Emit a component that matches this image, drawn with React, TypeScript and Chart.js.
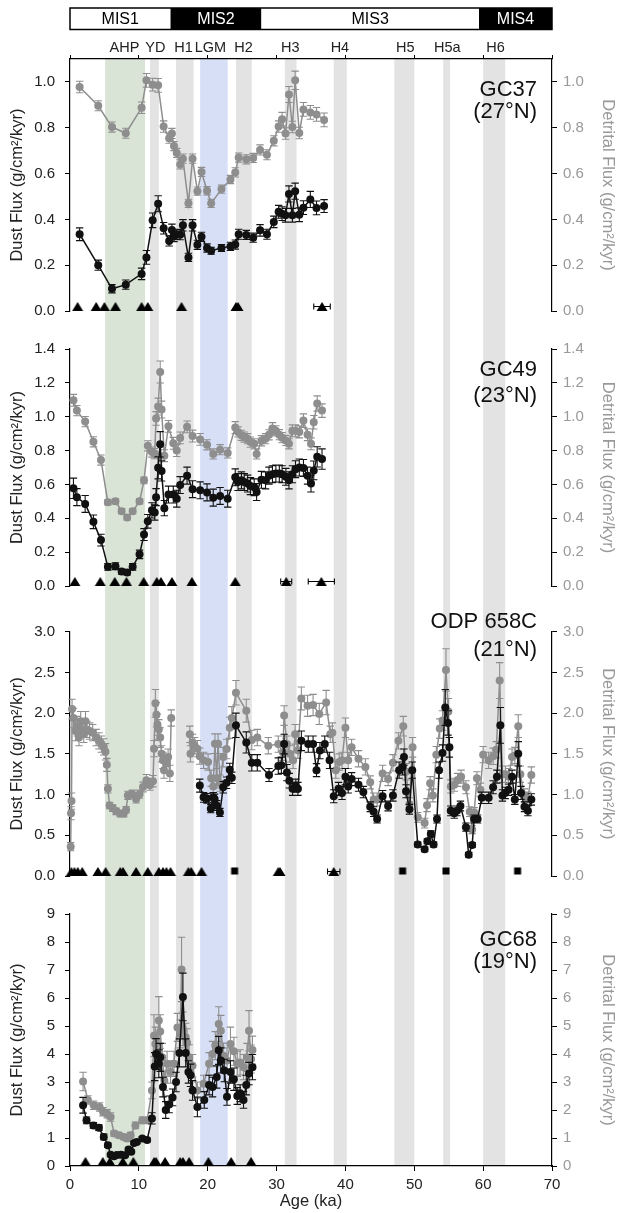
import React, { useEffect, useRef } from 'react';
import { Chart, registerables } from 'chart.js';
Chart.register(...registerables);

const FONT = '"Liberation Sans", Arimo, Arial, Helvetica, sans-serif';
const GREY = '#8e8e8e';
const BLACK = '#111111';

// ---------------- header data ----------------
const misNames = ['MIS1', 'MIS2', 'MIS3', 'MIS4'];
const misStart = [0, 14.6, 27.8, 59.4];
const misEnd = [14.6, 27.8, 59.4, 70];
const bandNames = ['AHP', 'YD', 'H1', 'LGM', 'H2', 'H3', 'H4', 'H5', 'H5a', 'H6'];
const bandStart = [5.1, 11.6, 15.4, 18.9, 24.1, 31.2, 38.3, 47.1, 54.2, 60.0];
const bandEnd = [10.9, 12.9, 17.95, 22.9, 26.4, 32.9, 40.2, 50.0, 55.2, 63.2];
const bandLabelAge = [7.9, 12.4, 16.5, 20.4, 25.2, 32.0, 39.2, 48.7, 54.8, 61.8];

// ---------------- GC37 ----------------
const gc37Ages = [1.4, 4.1, 6.1, 8.1, 10.4, 11.1, 12.0, 12.8, 13.6, 14.4, 14.8, 15.1, 15.5, 16.0, 16.4, 17.2, 17.8, 18.5, 19.1, 19.9, 20.5, 22.0, 23.3, 24.0, 24.5, 25.6, 26.6, 27.6, 28.6, 29.6, 30.3, 30.8, 31.3, 31.8, 32.3, 32.7, 33.3, 33.9, 34.9, 35.8, 36.9];
const gc37Detrital = [0.978, 0.896, 0.803, 0.776, 0.887, 1.007, 0.988, 0.985, 0.805, 0.754, 0.775, 0.72, 0.69, 0.64, 0.665, 0.47, 0.665, 0.523, 0.607, 0.525, 0.47, 0.532, 0.574, 0.605, 0.67, 0.662, 0.668, 0.703, 0.682, 0.743, 0.805, 0.837, 0.775, 0.945, 0.803, 1.007, 0.777, 0.88, 0.867, 0.858, 0.834];
const gc37DetritalErr = [0.025, 0.022, 0.022, 0.022, 0.025, 0.03, 0.028, 0.03, 0.025, 0.022, 0.022, 0.02, 0.02, 0.02, 0.02, 0.018, 0.02, 0.018, 0.02, 0.018, 0.018, 0.018, 0.018, 0.02, 0.02, 0.02, 0.02, 0.022, 0.022, 0.022, 0.025, 0.03, 0.025, 0.035, 0.025, 0.04, 0.025, 0.03, 0.03, 0.03, 0.03];
const gc37Dust = [0.335, 0.2, 0.097, 0.115, 0.162, 0.234, 0.396, 0.468, 0.361, 0.306, 0.354, 0.325, 0.335, 0.333, 0.374, 0.234, 0.374, 0.289, 0.324, 0.275, 0.263, 0.275, 0.282, 0.29, 0.335, 0.332, 0.32, 0.352, 0.335, 0.389, 0.433, 0.425, 0.418, 0.511, 0.418, 0.523, 0.42, 0.451, 0.487, 0.45, 0.458];
const gc37DustErr = [0.028, 0.022, 0.018, 0.02, 0.025, 0.03, 0.032, 0.035, 0.025, 0.022, 0.025, 0.022, 0.022, 0.022, 0.025, 0.018, 0.025, 0.02, 0.02, 0.018, 0.015, 0.015, 0.018, 0.02, 0.022, 0.02, 0.02, 0.025, 0.022, 0.025, 0.028, 0.03, 0.03, 0.035, 0.03, 0.035, 0.03, 0.03, 0.035, 0.03, 0.028];
const gc37CtrlAges = [1.1, 3.8, 5.0, 6.6, 10.4, 11.3, 16.2, 24.1, 24.4, 36.6];
const gc37CtrlErr = [0, 0, 0, 0, 0, 0, 0, 0, 0, 1.2];

// ---------------- GC49 ----------------
const gc49Ages = [0.5, 1.0, 2.2, 3.4, 4.5, 5.5, 6.6, 7.5, 8.3, 9.1, 10.1, 10.75, 11.3, 11.9, 12.3, 12.5, 12.8, 13.1, 13.3, 13.7, 14.3, 15.0, 15.5, 16.0, 17.0, 17.8, 18.9, 19.9, 20.8, 21.8, 22.9, 24.0, 24.4, 24.9, 25.3, 25.8, 26.2, 26.75, 27.1, 27.8, 28.4, 28.9, 29.4, 29.9, 30.4, 30.8, 31.35, 31.8, 32.3, 32.75, 33.3, 33.9, 34.5, 35.0, 35.4, 35.9, 36.6];
const gc49Detrital = [1.097, 1.036, 0.971, 0.852, 0.744, 0.494, 0.5, 0.442, 0.405, 0.442, 0.5, 0.624, 0.828, 0.791, 0.782, 0.99, 1.06, 1.264, 1.042, 0.77, 0.943, 0.843, 0.8, 0.875, 0.94, 0.886, 0.866, 0.834, 0.78, 0.805, 0.786, 0.936, 0.91, 0.89, 0.88, 0.87, 0.85, 0.84, 0.78, 0.858, 0.87, 0.893, 0.93, 0.917, 0.894, 0.876, 0.86, 0.84, 0.917, 0.917, 0.91, 0.977, 0.894, 0.84, 0.967, 1.078, 1.036];
const gc49DetritalErr = [0.035, 0.03, 0.03, 0.03, 0.03, 0.015, 0.015, 0.015, 0.015, 0.015, 0.015, 0.02, 0.03, 0.03, 0.03, 0.04, 0.05, 0.065, 0.05, 0.035, 0.035, 0.035, 0.035, 0.035, 0.035, 0.035, 0.035, 0.03, 0.03, 0.03, 0.03, 0.035, 0.03, 0.03, 0.03, 0.03, 0.03, 0.03, 0.03, 0.03, 0.03, 0.03, 0.035, 0.03, 0.03, 0.03, 0.03, 0.03, 0.035, 0.035, 0.035, 0.04, 0.035, 0.035, 0.04, 0.045, 0.04];
const gc49Dust = [0.577, 0.525, 0.485, 0.379, 0.271, 0.113, 0.117, 0.085, 0.08, 0.113, 0.187, 0.304, 0.382, 0.447, 0.434, 0.525, 0.698, 0.837, 0.68, 0.46, 0.54, 0.54, 0.516, 0.596, 0.652, 0.572, 0.565, 0.553, 0.522, 0.532, 0.516, 0.642, 0.614, 0.624, 0.614, 0.605, 0.59, 0.583, 0.555, 0.627, 0.624, 0.652, 0.66, 0.664, 0.664, 0.66, 0.645, 0.624, 0.66, 0.69, 0.7, 0.697, 0.652, 0.605, 0.683, 0.763, 0.75];
const gc49DustErr = [0.06, 0.05, 0.05, 0.04, 0.035, 0.02, 0.02, 0.015, 0.015, 0.02, 0.025, 0.035, 0.04, 0.045, 0.045, 0.05, 0.065, 0.075, 0.06, 0.045, 0.05, 0.05, 0.05, 0.05, 0.05, 0.05, 0.05, 0.05, 0.05, 0.05, 0.05, 0.05, 0.05, 0.05, 0.05, 0.05, 0.05, 0.05, 0.05, 0.05, 0.05, 0.05, 0.05, 0.05, 0.05, 0.05, 0.05, 0.05, 0.05, 0.05, 0.05, 0.05, 0.05, 0.05, 0.055, 0.06, 0.06];
const gc49CtrlAges = [0.7, 4.4, 6.5, 8.2, 10.7, 12.6, 13.2, 14.8, 17.7, 24.0, 31.4, 36.5];
const gc49CtrlErr = [0, 0, 0, 0, 0, 0, 0, 0, 0, 0, 0.8, 1.9];

// ---------------- ODP 658C ----------------
const odpDetritalAges = [0.1, 0.15, 0.22, 0.3, 0.5, 0.8, 1.05, 1.3, 1.55, 1.8, 2.0, 2.25, 2.45, 2.85, 3.3, 3.8, 4.2, 4.55, 4.9, 5.15, 5.35, 5.5, 5.75, 6.2, 6.7, 7.3, 7.8, 8.15, 8.4, 9.05, 9.6, 10.1, 10.6, 11.1, 11.6, 12.05, 12.2, 12.4, 12.55, 12.7, 12.9, 13.1, 13.3, 13.5, 13.65, 14.0, 14.25, 14.5, 14.7, 16.0, 17.4, 17.5, 17.8, 18.1, 18.5, 18.85, 19.4, 20.05, 20.5, 20.8, 21.05, 21.3, 21.5, 21.8, 22.25, 22.75, 23.2, 23.5, 24.1, 25.6, 26.4, 27.2, 28.8, 30.25, 30.9, 31.1, 31.5, 31.9, 32.4, 32.7, 33.1, 33.6, 34.5, 35.3, 36.2, 37.2, 37.8, 38.1, 38.6, 39.1, 39.5, 40.0, 40.4, 40.9, 41.9, 42.9, 43.6, 44.1, 44.6, 45.4, 46.2, 46.9, 47.7, 48.4, 48.8, 49.3, 49.75, 50.5, 51.5, 51.85, 52.3, 52.7, 53.2, 53.7, 54.1, 54.6, 54.95, 55.3, 55.8, 56.3, 56.8, 57.5, 58.05, 58.4, 58.7, 59.1, 59.6, 60.0, 60.8, 61.45, 61.9, 62.4, 62.8, 63.25, 63.7, 64.2, 64.6, 65.1, 65.4, 66.0, 66.5, 67.0];
const odpDetrital = [0.36, 0.77, 0.92, 2.05, 1.94, 1.78, 1.84, 1.7, 1.9, 1.8, 1.74, 1.9, 1.8, 1.78, 1.76, 1.7, 1.66, 1.62, 1.585, 1.525, 1.365, 1.07, 0.866, 0.834, 0.794, 0.766, 0.766, 0.814, 0.99, 1.005, 0.946, 1.005, 1.093, 1.177, 1.113, 1.165, 1.564, 2.12, 1.98, 1.86, 1.8, 1.7, 1.5, 1.42, 1.3, 1.38, 1.46, 1.26, 1.94, null, 1.74, 1.5, 1.64, 1.6, 1.564, 1.472, 1.42, 1.4, 1.2, 1.1, 1.625, 1.2, 1.625, 1.14, 1.46, 1.56, 1.82, 1.94, 2.25, 2.03, 1.67, 1.7, 1.6, 1.62, 1.52, 1.97, 1.62, 1.5, 1.42, 1.74, 1.545, 2.18, 2.09, 2.1, 1.99, 2.13, 1.74, 1.76, 1.3, 1.4, 1.42, 1.82, 1.42, 1.58, 1.44, 1.34, 1.15, 0.94, 0.94, 1.26, 1.19, 1.39, 1.66, 1.84, 1.28, 0.88, 1.58, 0.72, 0.65, 0.87, 1.14, 0.99, 1.49, 1.81, 1.91, 2.53, 2.02, 1.1, 1.12, 1.18, 1.22, 1.09, 0.79, 0.57, 0.78, 1.2, 1.06, 1.49, 1.42, 1.47, 1.55, 2.4, 1.25, 1.25, 1.22, 1.46, 1.48, 1.84, 1.25, 0.99, 0.95, 1.24];
const odpDetritalErr = [0.05, 0.08, 0.1, 0.12, 0.12, 0.12, 0.12, 0.1, 0.12, 0.1, 0.1, 0.12, 0.1, 0.1, 0.1, 0.1, 0.1, 0.1, 0.1, 0.1, 0.08, 0.05, 0.04, 0.04, 0.04, 0.04, 0.04, 0.04, 0.05, 0.05, 0.05, 0.05, 0.06, 0.07, 0.06, 0.07, 0.1, 0.17, 0.15, 0.13, 0.12, 0.12, 0.1, 0.1, 0.1, 0.1, 0.1, 0.1, 0.1, 0, 0.1, 0.1, 0.1, 0.1, 0.1, 0.1, 0.1, 0.1, 0.1, 0.12, 0.12, 0.12, 0.12, 0.1, 0.12, 0.12, 0.13, 0.14, 0.15, 0.14, 0.12, 0.1, 0.1, 0.1, 0.1, 0.12, 0.1, 0.1, 0.1, 0.12, 0.1, 0.14, 0.13, 0.13, 0.13, 0.15, 0.1, 0.12, 0.1, 0.1, 0.1, 0.12, 0.1, 0.1, 0.1, 0.1, 0.08, 0.08, 0.08, 0.1, 0.08, 0.1, 0.1, 0.12, 0.1, 0.08, 0.12, 0.06, 0.06, 0.08, 0.08, 0.08, 0.1, 0.12, 0.12, 0.26, 0.16, 0.08, 0.08, 0.08, 0.08, 0.08, 0.06, 0.05, 0.06, 0.08, 0.08, 0.1, 0.1, 0.1, 0.1, 0.22, 0.1, 0.1, 0.1, 0.1, 0.1, 0.14, 0.1, 0.08, 0.08, 0.1];
const odpDustAges = [18.85, 19.4, 19.9, 20.45, 20.8, 21.0, 21.3, 21.77, 22.25, 22.74, 23.2, 23.5, 24.1, 25.6, 26.4, 27.2, 28.9, 30.25, 30.7, 31.1, 31.5, 31.85, 32.33, 32.8, 33.1, 33.6, 34.6, 35.3, 35.8, 36.3, 37.0, 37.7, 38.3, 39.0, 39.5, 40.0, 40.4, 40.9, 41.9, 42.6, 43.6, 44.1, 44.6, 45.4, 46.2, 46.9, 47.8, 48.3, 48.5, 48.8, 49.3, 49.7, 50.5, 51.5, 51.9, 52.4, 52.8, 53.3, 53.6, 54.1, 54.5, 54.9, 55.1, 55.3, 55.8, 56.2, 56.7, 57.5, 57.9, 58.4, 58.7, 59.2, 59.8, 60.8, 61.45, 62.0, 62.5, 62.8, 63.2, 63.7, 64.2, 64.6, 65.1, 65.5, 66.0, 66.5, 67.0];
const odpDust = [1.11, 0.966, 0.953, 0.826, 0.966, 0.946, 0.866, 0.78, 1.09, 1.145, 1.305, 1.205, 1.85, 1.64, 1.39, 1.39, 1.24, 1.35, 1.36, 1.62, 1.27, 1.17, 1.07, 1.11, 1.07, 1.66, 1.62, 1.62, 1.3, 1.54, 1.62, 1.42, 0.98, 1.07, 1.02, 1.22, 1.1, 1.19, 1.12, 1.03, 0.85, 0.79, 0.7, 0.98, 0.86, 0.99, 1.3, 1.34, 1.46, 1.04, 0.82, 1.3, 0.387, 0.327, 0.427, 0.515, 0.387, 0.7, 1.3, 1.51, 2.07, 1.88, 1.58, 0.8, 0.77, 0.8, 0.86, 0.6, 0.26, 0.38, 0.7, 0.7, 0.96, 0.96, 1.09, 1.22, 1.85, 0.99, 1.02, 1.06, 1.22, 0.94, 1.5, 1.02, 0.85, 0.8, 0.94];
const odpDustErr = [0.08, 0.06, 0.06, 0.05, 0.06, 0.06, 0.06, 0.05, 0.07, 0.07, 0.08, 0.07, 0.15, 0.13, 0.1, 0.1, 0.08, 0.1, 0.1, 0.12, 0.1, 0.09, 0.08, 0.08, 0.08, 0.12, 0.1, 0.1, 0.08, 0.1, 0.1, 0.1, 0.08, 0.08, 0.08, 0.1, 0.08, 0.08, 0.08, 0.07, 0.06, 0.06, 0.05, 0.07, 0.06, 0.07, 0.1, 0.1, 0.1, 0.08, 0.06, 0.1, 0.03, 0.03, 0.03, 0.04, 0.03, 0.05, 0.1, 0.1, 0.22, 0.15, 0.12, 0.06, 0.06, 0.06, 0.06, 0.05, 0.03, 0.03, 0.05, 0.05, 0.07, 0.07, 0.08, 0.08, 0.22, 0.07, 0.07, 0.07, 0.08, 0.06, 0.15, 0.08, 0.06, 0.06, 0.07];
const odpCtrlAges = [0.2, 0.65, 1.13, 1.77, 4.05, 5.17, 7.3, 7.7, 9.6, 11.3, 12.9, 13.5, 14.0, 14.6, 17.2, 17.6, 19.1, 30.25, 30.5, 38.3];
const odpCtrlErr = [0, 0, 0, 0, 0, 0, 0, 0, 0, 0, 0, 0, 0, 0, 0, 0, 0, 0, 0, 0.9];
const odpTieAges = [23.9, 48.3, 54.6, 65.0];

// ---------------- GC68 ----------------
const gc68DetritalAges = [1.9, 2.6, 3.45, 4.3, 4.8, 5.4, 5.9, 6.4, 7.1, 7.8, 8.3, 8.8, 9.5, 10.5, 11.2, 11.9, 12.2, 12.4, 12.7, 12.9, 13.1, 13.4, 13.7, 14.1, 14.6, 15.1, 15.6, 16.0, 16.2, 16.4, 16.8, 17.0, 17.3, 17.8, 18.5, 19.4, 20.2, 20.7, 21.1, 21.6, 21.9, 22.3, 22.8, 23.3, 23.8, 24.3, 24.7, 25.2, 25.7, 26.0, 26.3, 26.5];
const gc68Detrital = [3.02, 2.36, 2.17, 2.11, 1.94, 1.87, 1.75, 1.16, 1.1, 1.04, 0.98, 1.1, 1.45, 1.63, 1.63, 2.7, 4.65, 4.36, 4.0, 5.2, 4.8, 3.88, 3.05, 3.65, 3.36, 3.65, 4.95, 4.72, 7.02, 4.9, 4.6, 4.4, 3.88, 3.58, 2.7, 2.94, 3.65, 4.0, 4.3, 5.07, 4.83, 3.94, 3.77, 4.36, 4.1, 3.65, 3.7, 3.53, 3.88, 4.83, 3.82, 4.14];
const gc68DetritalErr = [0.33, 0.15, 0.15, 0.15, 0.15, 0.15, 0.15, 0.1, 0.1, 0.1, 0.1, 0.1, 0.12, 0.12, 0.12, 0.3, 0.75, 0.6, 0.5, 0.85, 0.6, 0.5, 0.35, 0.45, 0.4, 0.45, 0.5, 0.5, 1.15, 0.6, 0.5, 0.5, 0.45, 0.4, 0.3, 0.3, 0.4, 0.45, 0.5, 0.62, 0.55, 0.45, 0.45, 0.6, 0.5, 0.45, 0.45, 0.45, 0.5, 0.72, 0.5, 0.5];
const gc68DustAges = [1.9, 2.4, 3.4, 4.2, 4.9, 5.5, 5.9, 6.4, 6.8, 7.4, 8.0, 8.5, 8.9, 9.3, 9.7, 10.5, 11.2, 11.9, 12.3, 12.5, 12.9, 13.1, 13.5, 13.9, 14.4, 14.9, 15.4, 15.9, 16.4, 16.8, 17.2, 17.5, 17.8, 18.5, 19.5, 20.2, 20.7, 21.3, 21.6, 21.9, 22.4, 22.8, 23.3, 23.8, 24.3, 24.7, 25.2, 25.6, 26.0, 26.5];
const gc68Dust = [2.17, 1.63, 1.45, 1.37, 1.04, 0.74, 0.4, 0.35, 0.39, 0.4, 0.38, 0.59, 0.51, 0.82, 0.86, 0.98, 0.93, 1.7, 3.55, 4.0, 3.65, 3.88, 2.82, 2.0, 2.2, 2.45, 3.0, 4.04, 6.04, 4.04, 3.36, 3.24, 2.7, 2.11, 2.36, 2.89, 2.82, 3.18, 4.13, 3.77, 3.41, 2.47, 3.36, 3.1, 2.5, 2.6, 2.36, 2.89, 3.3, 3.53];
const gc68DustErr = [0.28, 0.12, 0.1, 0.1, 0.1, 0.08, 0.05, 0.04, 0.04, 0.05, 0.05, 0.06, 0.06, 0.06, 0.06, 0.07, 0.07, 0.2, 0.5, 0.55, 0.5, 0.5, 0.35, 0.3, 0.3, 0.3, 0.35, 0.5, 0.85, 0.5, 0.4, 0.4, 0.35, 0.35, 0.3, 0.35, 0.35, 0.4, 0.5, 0.45, 0.4, 0.3, 0.4, 0.4, 0.3, 0.3, 0.3, 0.35, 0.4, 0.45];
const gc68CtrlAges = [2.25, 4.76, 5.8, 7.67, 9.2, 12.2, 12.5, 13.8, 16.0, 16.4, 17.3, 20.1, 23.4, 26.3];
const gc68CtrlErr = [0, 0, 0, 0, 0, 0, 0, 0, 0, 0, 0, 0, 0, 0];

// ---------------- panel definitions ----------------
type PanelCfg = {
  name: string; lat: string;
  top: number; height: number; padTop: number; padBottom: number;
  ymax: number; step: number; digits: number;
  header: boolean; footer: boolean;
  nameBase: number; latBase: number;
  dustAges: number[]; dust: (number | null)[]; dustErr: number[];
  detAges: number[]; det: (number | null)[]; detErr: number[];
  ctrlAges: number[]; ctrlErr: number[]; tieAges?: number[];
};

const panels: PanelCfg[] = [
  { name: 'GC37', lat: '(27°N)', top: 0, height: 330, padTop: 55, padBottom: 16, ymax: 1.1, step: 0.2, digits: 1, header: true, footer: false, nameBase: 36.6, latBase: 58.6,
    dustAges: gc37Ages, dust: gc37Dust, dustErr: gc37DustErr, detAges: gc37Ages, det: gc37Detrital, detErr: gc37DetritalErr, ctrlAges: gc37CtrlAges, ctrlErr: gc37CtrlErr },
  { name: 'GC49', lat: '(23°N)', top: 330, height: 275, padTop: 14, padBottom: 9.7, ymax: 1.4, step: 0.2, digits: 1, header: false, footer: false, nameBase: 27.2, latBase: 52.9,
    dustAges: gc49Ages, dust: gc49Dust, dustErr: gc49DustErr, detAges: gc49Ages, det: gc49Detrital, detErr: gc49DetritalErr, ctrlAges: gc49CtrlAges, ctrlErr: gc49CtrlErr },
  { name: 'ODP 658C', lat: '(21°N)', top: 605, height: 290, padTop: 26.7, padBottom: 12.7, ymax: 3.0, step: 0.5, digits: 1, header: false, footer: false, nameBase: -3.8, latBase: 24.5,
    dustAges: odpDustAges, dust: odpDust, dustErr: odpDustErr, detAges: odpDetritalAges, det: odpDetrital, detErr: odpDetritalErr, ctrlAges: odpCtrlAges, ctrlErr: odpCtrlErr, tieAges: odpTieAges },
  { name: 'GC68', lat: '(19°N)', top: 895, height: 318, padTop: 17.7, padBottom: 0, ymax: 9, step: 1, digits: 0, header: false, footer: true, nameBase: 32.2, latBase: 54.2,
    dustAges: gc68DustAges, dust: gc68Dust, dustErr: gc68DustErr, detAges: gc68DetritalAges, det: gc68Detrital, detErr: gc68DetritalErr, ctrlAges: gc68CtrlAges, ctrlErr: gc68CtrlErr },
];

function bandColor(name: string): string {
  if (name === 'AHP') return '#d9e4d6';
  if (name === 'LGM') return '#d6dff5';
  return '#e3e3e3';
}

function markerImage(kind: 'tri' | 'sq'): HTMLCanvasElement {
  const c = document.createElement('canvas');
  c.width = 12; c.height = 20;
  const g = c.getContext('2d')!;
  g.fillStyle = '#000';
  if (kind === 'tri') {
    g.beginPath(); g.moveTo(0.5, 10); g.lineTo(11.5, 10); g.lineTo(6, 1); g.closePath(); g.fill();
  } else {
    g.fillRect(2.5, 1.5, 7, 7);
  }
  return c;
}

const errorBars = {
  id: 'errorBars',
  beforeDatasetDraw(chart: any, args: any) {
    const ds = chart.data.datasets[args.index];
    if (!ds.yErr && !ds.xErr) return;
    const meta = args.meta;
    const xs = chart.scales[meta.xAxisID];
    const ys = chart.scales[meta.yAxisID];
    const ctx = chart.ctx;
    ctx.save();
    ctx.strokeStyle = ds.errColor;
    ctx.lineWidth = 1.1;
    ctx.beginPath();
    ds.data.forEach((p: any, i: number) => {
      if (p.y === null || p.y === undefined) return;
      const px = xs.getPixelForValue(p.x);
      const py = ys.getPixelForValue(p.y);
      const e = ds.yErr ? ds.yErr[i] : 0;
      if (e) {
        const a = ys.getPixelForValue(p.y + e);
        const b = ys.getPixelForValue(p.y - e);
        ctx.moveTo(px, a); ctx.lineTo(px, b);
        ctx.moveTo(px - 3.7, a); ctx.lineTo(px + 3.7, a);
        ctx.moveTo(px - 3.7, b); ctx.lineTo(px + 3.7, b);
      }
      const xe = ds.xErr ? ds.xErr[i] : 0;
      if (xe) {
        const yy = py - 4.5;
        const l = xs.getPixelForValue(p.x - xe);
        const r = xs.getPixelForValue(p.x + xe);
        ctx.moveTo(l, yy); ctx.lineTo(r, yy);
        ctx.moveTo(l, yy - 3); ctx.lineTo(l, yy + 3);
        ctx.moveTo(r, yy - 3); ctx.lineTo(r, yy + 3);
      }
    });
    ctx.stroke();
    ctx.restore();
  },
};

const decor = {
  id: 'decor',
  beforeDraw(chart: any, _a: any, opts: any) {
    const { ctx, chartArea } = chart;
    const xs = chart.scales.x;
    const top = opts.header ? chartArea.top : 0;
    const bottom = opts.footer ? chartArea.bottom : chart.height;
    ctx.save();
    bandNames.forEach((n, i) => {
      const x1 = xs.getPixelForValue(bandStart[i]);
      const x2 = xs.getPixelForValue(bandEnd[i]);
      ctx.fillStyle = bandColor(n);
      ctx.fillRect(x1, top, x2 - x1, bottom - top);
    });
    ctx.restore();
  },
  afterDraw(chart: any, _a: any, opts: any) {
    const { ctx, chartArea } = chart;
    const xs = chart.scales.x;
    ctx.save();
    ctx.fillStyle = '#111';
    ctx.font = `22px ${FONT}`;
    ctx.textAlign = 'right';
    ctx.textBaseline = 'alphabetic';
    ctx.fillText(opts.name, chartArea.right - 15, chartArea.top + opts.nameBase);
    ctx.fillText(opts.lat, chartArea.right - 15, chartArea.top + opts.latBase);
    if (opts.header) {
      const barTop = chartArea.top - 51;
      const barBot = chartArea.top - 29.5;
      misNames.forEach((n, i) => {
        const x1 = xs.getPixelForValue(misStart[i]);
        const x2 = xs.getPixelForValue(misEnd[i]);
        const dark = i % 2 === 1;
        ctx.fillStyle = dark ? '#000' : '#fff';
        ctx.fillRect(x1, barTop, x2 - x1, barBot - barTop);
        ctx.fillStyle = dark ? '#fff' : '#000';
        ctx.font = `16px ${FONT}`;
        ctx.textAlign = 'center';
        ctx.fillText(n, (x1 + x2) / 2, (barTop + barBot) / 2 + 5.7);
      });
      const x0 = xs.getPixelForValue(misStart[0]);
      const xe = xs.getPixelForValue(misEnd[misEnd.length - 1]);
      ctx.strokeStyle = '#000';
      ctx.lineWidth = 1.5;
      ctx.strokeRect(x0, barTop, xe - x0, barBot - barTop);
      ctx.font = `14.5px ${FONT}`;
      ctx.fillStyle = '#222';
      ctx.textAlign = 'center';
      bandNames.forEach((n, i) => {
        ctx.fillText(n, xs.getPixelForValue(bandLabelAge[i]), chartArea.top - 7);
      });
    }
    ctx.restore();
  },
};

function pts(ages: number[], vals: (number | null)[]) {
  return ages.map((a, i) => ({ x: a, y: vals[i] }));
}

function Panel({ cfg }: { cfg: PanelCfg }) {
  const ref = useRef<HTMLCanvasElement>(null);
  useEffect(() => {
    if (!ref.current) return;
    const tri = markerImage('tri');
    const sq = markerImage('sq');
    const datasets: any[] = [];
    datasets.push({
      data: cfg.ctrlAges.map((a) => ({ x: a, y: 0 })), pointStyle: tri, pointRadius: 6, showLine: false,
      xErr: cfg.ctrlErr, errColor: '#000', yAxisID: 'y', clip: false,
    });
    if (cfg.tieAges) {
      datasets.push({ data: cfg.tieAges.map((a) => ({ x: a, y: 0 })), pointStyle: sq, pointRadius: 6, showLine: false, yAxisID: 'y', clip: false });
    }
    datasets.push({
      data: pts(cfg.dustAges, cfg.dust), yErr: cfg.dustErr, errColor: BLACK, showLine: true,
      borderColor: BLACK, backgroundColor: BLACK, borderWidth: 1.5, pointRadius: 4, pointBorderWidth: 0,
      pointBackgroundColor: BLACK, yAxisID: 'y', clip: false, spanGaps: false,
    });
    datasets.push({
      data: pts(cfg.detAges, cfg.det), yErr: cfg.detErr, errColor: GREY, showLine: true,
      borderColor: GREY, backgroundColor: GREY, borderWidth: 1.5, pointRadius: 4, pointBorderWidth: 0,
      pointBackgroundColor: GREY, yAxisID: 'y2', clip: false, spanGaps: false,
    });

    const yAxis = (pos: 'left' | 'right') => ({
      type: 'linear', position: pos, min: 0, max: cfg.ymax,
      ticks: {
        stepSize: cfg.step, includeBounds: false, color: pos === 'left' ? '#222' : '#999',
        font: { family: FONT, size: 15 }, padding: pos === 'left' ? 10 : 6,
        callback: (v: any) => Number(v).toFixed(cfg.digits),
      },
      grid: { drawOnChartArea: false, drawTicks: true, tickLength: 5, color: '#000', lineWidth: 1 },
      border: { display: true, color: '#000', width: 1.2 },
      title: {
        display: true, text: pos === 'left' ? 'Dust Flux (g/cm²/kyr)' : 'Detrital Flux (g/cm²/kyr)',
        color: pos === 'left' ? '#222' : '#999', font: { family: FONT, size: 16.5 },
        padding: { top: pos === 'left' ? 8 : 0, bottom: 0 },
      },
      afterFit: (s: any) => { s.width = pos === 'left' ? 70 : 65; },
    });

    let xAxis: any;
    if (cfg.header) {
      xAxis = {
        type: 'linear', position: 'top', min: 0, max: 70,
        ticks: { display: false, stepSize: 10 },
        grid: { drawOnChartArea: false, drawTicks: true, tickLength: 4, color: '#000' },
        border: { display: true, color: '#000', width: 1.2 },
      };
    } else if (cfg.footer) {
      xAxis = {
        type: 'linear', position: 'bottom', min: 0, max: 70,
        ticks: { stepSize: 10, color: '#222', font: { family: FONT, size: 15 }, padding: 5, maxRotation: 0, autoSkip: false, callback: (v: any) => String(v) },
        grid: { drawOnChartArea: false, drawTicks: true, tickLength: 5, color: '#000' },
        border: { display: true, color: '#000', width: 1.2 },
        title: { display: true, text: 'Age (ka)', color: '#222', font: { family: FONT, size: 16.5 }, padding: { top: 0, bottom: 2 } },
        afterFit: (s: any) => { s.height = 47; },
      };
    } else {
      xAxis = { type: 'linear', display: false, min: 0, max: 70 };
    }

    const chart = new Chart(ref.current, {
      type: 'scatter',
      data: { datasets },
      options: {
        responsive: false,
        maintainAspectRatio: false,
        animation: false,
        events: [],
        layout: { padding: { top: cfg.padTop, bottom: cfg.padBottom, left: 0, right: 0 } },
        scales: { x: xAxis, y: yAxis('left'), y2: yAxis('right') } as any,
        plugins: {
          legend: { display: false },
          tooltip: { enabled: false },
          decor: { name: cfg.name, lat: cfg.lat, nameBase: cfg.nameBase, latBase: cfg.latBase, header: cfg.header, footer: cfg.footer },
        } as any,
      },
      plugins: [decor, errorBars],
    } as any);
    return () => chart.destroy();
  }, [cfg]);
  return (
    <canvas
      ref={ref}
      width={617}
      height={cfg.height}
      style={{ position: 'absolute', left: 0, top: cfg.top, width: 617, height: cfg.height }}
    />
  );
}

export default function App() {
  return (
    <div style={{ position: 'absolute', left: 0, top: 0, width: 617, height: 1213, background: '#fff', overflow: 'hidden' }}>
      {panels.map((p) => (
        <Panel key={p.name} cfg={p} />
      ))}
    </div>
  );
}
